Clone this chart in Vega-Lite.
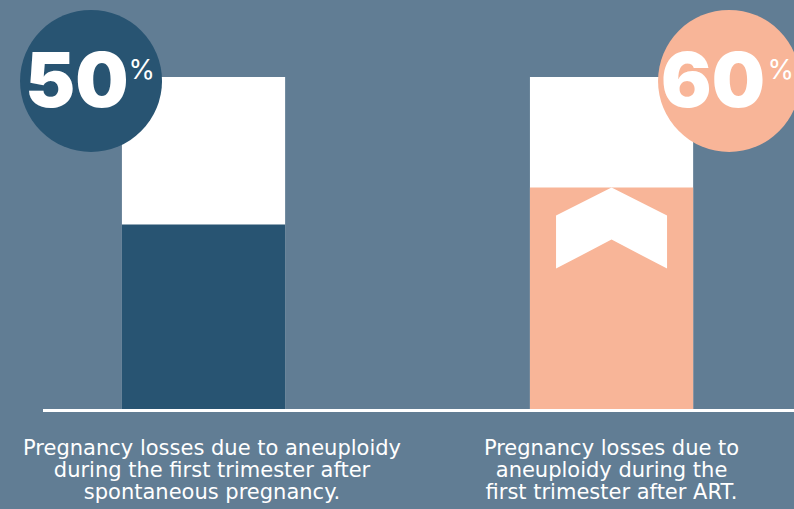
{
  "$schema": "https://vega.github.io/schema/vega-lite/v6.json",
  "autosize": "none",
  "width": 751,
  "height": 369,
  "padding": {"left": 43, "top": 40, "right": 0, "bottom": 100},
  "background": "#617d94",
  "config": {"view": {"stroke": null}},
  "data": {
    "values": [
      {"group": "spontaneous", "pct": 50, "total": 90, "label": "Pregnancy losses due to aneuploidy\nduring the first trimester after\nspontaneous pregnancy."},
      {"group": "ART", "pct": 60, "total": 90, "label": "Pregnancy losses due to\naneuploidy during the\nfirst trimester after ART."}
    ]
  },
  "encoding": {
    "x": {"field": "group", "type": "nominal", "sort": ["spontaneous", "ART"],
          "scale": {"paddingInner": 0.6, "paddingOuter": 0.2203, "align": 0.439}, "axis": null}
  },
  "layer": [
    {
      "mark": {"type": "bar", "color": "#ffffff"},
      "encoding": {
        "y": {"field": "total", "type": "quantitative", "scale": {"domain": [0, 100], "nice": false, "zero": true}, "axis": null}
      }
    },
    {
      "mark": {"type": "bar"},
      "encoding": {
        "y": {"field": "pct", "type": "quantitative"},
        "color": {"field": "group", "type": "nominal", "scale": {"domain": ["spontaneous", "ART"], "range": ["#285472", "#f8b598"]}, "legend": null}
      }
    },
    {
      "transform": [{"filter": "datum.group == 'ART'"}],
      "mark": {"type": "point", "filled": true, "fill": "#ffffff", "opacity": 1, "strokeWidth": 0,
               "shape": "M-1,-0.225L0,-0.73L1,-0.225L1,0.73L0,0.207L-1,0.73Z", "size": 12321, "yOffset": 40.5},
      "encoding": {
        "y": {"field": "pct", "type": "quantitative"}
      }
    },
    {
      "mark": {"type": "point", "shape": "circle", "filled": true, "opacity": 1, "size": 20164, "yOffset": 4,
               "xOffset": {"expr": "datum.group == 'spontaneous' ? -112.5 : 117.5"}},
      "encoding": {
        "y": {"field": "total", "type": "quantitative"},
        "color": {"field": "group", "type": "nominal"}
      }
    },
    {
      "mark": {"type": "text", "font": "Inter", "fontWeight": 900, "fontSize": 75, "color": "#ffffff",
               "align": "right", "baseline": "alphabetic", "yOffset": 30,
               "xOffset": {"expr": "datum.group == 'spontaneous' ? -75 : 153.5"}},
      "encoding": {
        "y": {"field": "total", "type": "quantitative"},
        "text": {"field": "pct", "type": "quantitative"}
      }
    },
    {
      "mark": {"type": "text", "font": "Inter", "fontWeight": 400, "fontSize": 27, "color": "#ffffff",
               "align": "left", "baseline": "alphabetic", "yOffset": 2,
               "xOffset": {"expr": "datum.group == 'spontaneous' ? -75 : 156"}},
      "encoding": {
        "y": {"field": "total", "type": "quantitative"},
        "text": {"value": "%"}
      }
    },
    {
      "mark": {"type": "rule", "color": "#ffffff", "strokeWidth": 3, "yOffset": 1.5},
      "encoding": {"y": {"datum": 0}, "x": null}
    },
    {
      "mark": {"type": "text", "font": "DejaVu Sans", "fontSize": 21, "color": "#ffffff", "align": "center",
               "baseline": "alphabetic", "lineBreak": "\n", "lineHeight": 22, "dy": 46,
               "xOffset": {"expr": "datum.group == 'spontaneous' ? 8.5 : 0"}},
      "encoding": {
        "y": {"datum": 0},
        "text": {"field": "label", "type": "nominal"}
      }
    }
  ]
}
